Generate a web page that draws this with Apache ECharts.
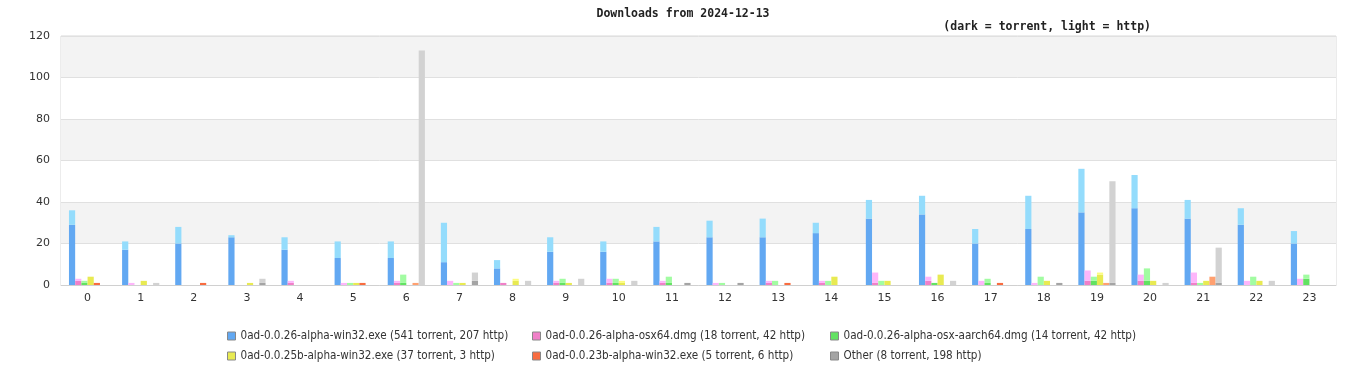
<!DOCTYPE html>
<html>
<head>
<meta charset="utf-8">
<script src="https://cdn.jsdelivr.net/npm/echarts@6/dist/echarts.min.js"></script>
<style>html,body{margin:0;padding:0;background:#fff}#c{width:1366px;height:380px}</style>
</head>
<body>
<div id="c"></div>
<script>
const hours = ['0','1','2','3','4','5','6','7','8','9','10','11','12','13','14','15','16','17','18','19','20','21','22','23'];
const yTicks = [0, 20, 40, 60, 80, 100, 120];
const seriesNames = [
  '0ad-0.0.26-alpha-win32.exe (541 torrent, 207 http)',
  '0ad-0.0.26-alpha-osx64.dmg (18 torrent, 42 http)',
  '0ad-0.0.26-alpha-osx-aarch64.dmg (14 torrent, 42 http)',
  '0ad-0.0.25b-alpha-win32.exe (37 torrent, 3 http)',
  '0ad-0.0.23b-alpha-win32.exe (5 torrent, 6 http)',
  'Other (8 torrent, 198 http)'
];
const win32Torrent = [29,17,20,23,17,13,13,11,8,16,16,21,23,23,25,32,34,20,27,35,37,32,29,20];
const win32Http    = [7,4,8,1,6,8,8,19,4,7,5,7,8,9,5,9,9,7,16,21,16,9,8,6];
const osx64Torrent = [2,0,0,0,1,0,1,0,1,1,1,1,0,1,1,1,2,0,0,2,2,1,0,0];
const osx64Http    = [1,1,0,0,1,1,1,2,0,1,2,1,1,1,1,5,2,2,1,5,3,5,2,3];
const aarchTorrent = [1,0,0,0,0,0,1,0,0,1,1,1,0,0,0,0,1,1,0,2,2,0,0,3];
const aarchHttp    = [1,0,0,0,0,1,4,1,0,2,2,3,1,2,2,2,0,2,4,2,6,1,4,2];
const v25bTorrent  = [4,2,0,1,0,1,0,1,2,1,1,0,0,0,4,2,5,0,2,5,2,2,2,0];
const v25bHttp     = [0,0,0,0,0,0,0,0,1,0,1,0,0,0,0,0,0,0,0,1,0,0,0,0];
const v23bTorrent  = [1,0,1,0,0,1,0,0,0,0,0,0,0,1,0,0,0,1,0,0,0,0,0,0];
const v23bHttp     = [0,0,0,0,0,0,1,0,0,0,0,0,0,0,0,0,0,0,0,1,0,4,0,0];
const otherTorrent = [0,0,0,1,0,0,0,2,0,0,0,1,1,0,0,0,0,0,1,1,0,1,0,0];
const otherHttp    = [0,1,0,2,0,0,113,4,2,3,2,0,0,0,0,0,2,0,0,49,1,17,2,0];

const torrentData = [win32Torrent, osx64Torrent, aarchTorrent, v25bTorrent, v23bTorrent, otherTorrent];
const httpData = [win32Http, osx64Http, aarchHttp, v25bHttp, v23bHttp, otherHttp];
const darkColors  = ['#62a8f2', '#f080c8', '#62e262', '#e8ea52', '#f86c40', '#a4a4a4'];
const lightColors = ['#94dcfc', '#fdb6fa', '#a2fca2', '#fcfc80', '#ffa070', '#d2d2d2'];

const series = [];
for (let i = 0; i < 6; i++) {
  series.push({
    name: seriesNames[i], type: 'bar', stack: 's' + i, data: torrentData[i],
    barWidth: 6.2, barGap: '0%', itemStyle: { color: darkColors[i] }, silent: true
  });
  series.push({
    name: seriesNames[i], type: 'bar', stack: 's' + i, data: httpData[i],
    barWidth: 6.2, barGap: '0%', itemStyle: { color: lightColors[i] }, silent: true
  });
}

const legendFont = { fontFamily: 'DejaVu Sans Condensed, DejaVu Sans', fontSize: 11.6, color: '#333' };
function legendCol(left, names) {
  return {
    orient: 'vertical', left: left, top: 325, itemWidth: 8, itemHeight: 8, itemGap: 8,
    icon: 'rect', data: names, textStyle: legendFont,
    itemStyle: { borderColor: '#888', borderWidth: 1 }
  };
}

const chart = echarts.init(document.getElementById('c'), null, { renderer: 'canvas' });
chart.setOption({
  animation: false,
  title: [
    { text: 'Downloads from 2024-12-13', left: 'center', top: 3,
      textStyle: { fontFamily: 'DejaVu Sans Mono', fontWeight: 'bold', fontSize: 11.5, color: '#222' } },
    { text: '(dark = torrent, light = http)', right: 210, top: 16,
      textStyle: { fontFamily: 'DejaVu Sans Mono', fontWeight: 'bold', fontSize: 11.5, color: '#222' } }
  ],
  legend: [
    legendCol(222, [seriesNames[0], seriesNames[3]]),
    legendCol(527, [seriesNames[1], seriesNames[4]]),
    legendCol(825, [seriesNames[2], seriesNames[5]])
  ],
  grid: { left: 61, right: 30, top: 36, bottom: 95, show: true, borderColor: '#d8d8d8', borderWidth: 1, containLabel: false },
  xAxis: {
    type: 'category', data: hours,
    axisLine: { lineStyle: { color: '#d0d0d0' } },
    axisTick: { show: false },
    axisLabel: { color: '#333', fontFamily: 'DejaVu Sans', fontSize: 11, margin: 8 }
  },
  yAxis: {
    type: 'value', min: yTicks[0], max: yTicks[yTicks.length - 1], interval: 20,
    axisLine: { show: false }, axisTick: { show: false },
    axisLabel: { color: '#333', fontFamily: 'DejaVu Sans', fontSize: 11, margin: 11 },
    splitLine: { lineStyle: { color: '#e0e0e0' } },
    splitArea: { show: true, areaStyle: { color: ['#ffffff', '#f3f3f3'] } }
  },
  series: series
});
</script>
</body>
</html>
